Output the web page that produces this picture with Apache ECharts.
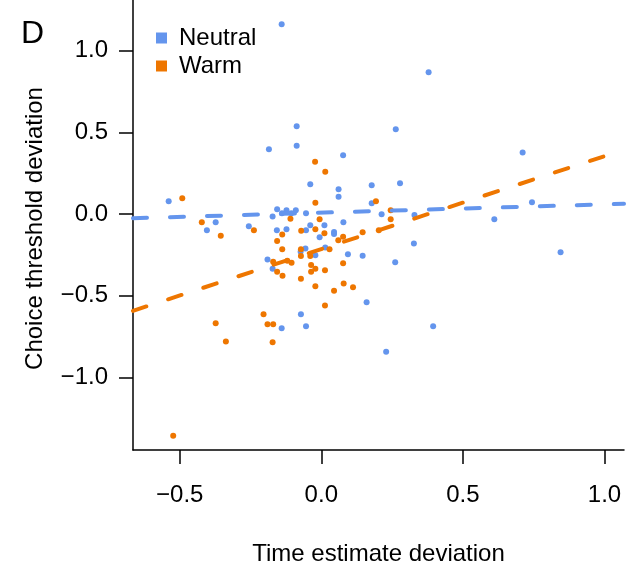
<!DOCTYPE html>
<html>
<head>
<meta charset="utf-8">
<script src="https://cdn.jsdelivr.net/npm/echarts@6/dist/echarts.min.js"></script>
<style>html,body{margin:0;padding:0;background:#fff;}#c{width:628px;height:571px;}</style>
</head>
<body>
<div id="c"></div>
<script>
// Data
const neutralX = [-0.140,-0.087,-0.185,-0.087,0.077,-0.039,0.061,0.061,0.178,0.178,-0.539,-0.373,-0.404,-0.256,-0.172,-0.156,-0.123,-0.106,-0.090,-0.139,-0.054,-0.157,-0.123,-0.190,-0.172,-0.054,-0.039,0.011,0.045,0.045,-0.006,0.078,0.014,-0.056,-0.073,-0.021,0.094,0.146,0.160,-0.072,-0.140,-0.054,0.379,0.263,0.711,0.278,0.213,0.329,0.327,0.261,0.611,0.744,0.845,0.395,0.229];
const neutralY = [1.162,0.537,0.396,0.418,0.359,0.182,0.151,0.106,0.176,0.066,0.078,-0.051,-0.100,-0.075,-0.016,0.029,0.023,0.004,0.023,0.004,0.004,-0.100,-0.094,-0.278,-0.335,-0.100,-0.069,-0.069,-0.110,-0.122,-0.143,-0.051,-0.206,-0.212,-0.231,-0.253,-0.247,-0.255,-0.541,-0.614,-0.700,-0.688,0.868,0.519,0.376,0.188,-0.002,-0.006,-0.180,-0.296,-0.032,0.072,-0.235,-0.688,-0.843];
const warmX = [-0.022,0.014,0.193,-0.021,-0.491,-0.422,-0.355,-0.238,-0.109,-0.138,-0.156,-0.138,-0.170,-0.156,-0.137,-0.120,-0.105,-0.072,-0.071,-0.006,-0.021,0.011,0.077,0.060,0.146,0.203,0.029,-0.072,-0.072,-0.039,-0.036,-0.036,-0.021,0.013,-0.021,0.045,0.079,0.112,0.077,0.013,-0.204,-0.373,-0.190,-0.170,-0.337,-0.172,-0.523,0.245,0.245];
const warmY = [0.320,0.259,0.078,0.069,0.096,-0.051,-0.133,-0.100,-0.029,-0.125,-0.165,-0.216,-0.292,-0.353,-0.378,-0.286,-0.298,-0.396,-0.102,-0.032,-0.094,-0.118,-0.139,-0.161,-0.112,-0.100,-0.216,-0.216,-0.257,-0.257,-0.312,-0.353,-0.335,-0.345,-0.443,-0.470,-0.425,-0.449,-0.302,-0.561,-0.614,-0.669,-0.675,-0.675,-0.780,-0.786,-1.357,0.023,-0.032];
// Fitted regression line end points
const neutralFitX = [-0.665, 1.069];
const neutralFitY = [-0.026, 0.0625];
const warmFitX = [-0.665, 1.069];
const warmFitY = [-0.593, 0.393];
const xTicks = [-0.5, 0, 0.5, 1.0];
const yTicks = [-1.0, -0.5, 0, 0.5, 1.0];
const seriesNames = ['Neutral', 'Warm'];

const BLUE = '#6495ED', ORANGE = '#EE7600';
const FONT = 'Liberation Sans, Arial, sans-serif';
const zip = (a, b) => a.map((v, i) => [v, b[i]]);
const fmt = v => (v < 0 ? '\u2212' : '') + Math.abs(v).toFixed(1);

const chart = echarts.init(document.getElementById('c'), null, {renderer: 'canvas'});
chart.setOption({
  animation: false,
  backgroundColor: '#fff',
  textStyle: {fontFamily: FONT},
  grid: {left: 133, right: 4, top: 0, bottom: 121, containLabel: false, outerBoundsMode: 'none'},
  legend: {
    data: seriesNames,
    orient: 'vertical',
    left: 151, top: 21,
    icon: 'rect', itemWidth: 11, itemHeight: 11, itemGap: 4,
    textStyle: {fontSize: 24, fontFamily: FONT, color: '#000', lineHeight: 24, padding: [0, 0, 0, 7]}
  },
  graphic: [{
    type: 'text', left: 21, top: 18,
    style: {text: 'D', font: '32px ' + FONT, fill: '#000'}
  }],
  xAxis: {
    type: 'value', min: -0.665, max: 1.069,
    name: 'Time estimate deviation', nameLocation: 'middle', nameGap: 92,
    nameTextStyle: {fontSize: 24, fontFamily: FONT, color: '#000'},
    splitLine: {show: false},
    axisLine: {show: true, onZero: false, lineStyle: {color: '#000', width: 1.5}},
    axisTick: {show: true, length: 14, customValues: xTicks, lineStyle: {color: '#000', width: 1.5}},
    axisLabel: {customValues: xTicks, formatter: fmt, fontSize: 24, fontFamily: FONT, color: '#000', margin: 33}
  },
  yAxis: {
    type: 'value', min: -1.445, max: 1.31,
    name: 'Choice threshold deviation', nameLocation: 'middle', nameGap: 86, nameRotate: 90,
    nameTextStyle: {fontSize: 24, fontFamily: FONT, color: '#000', padding: [0, 7, 0, 0]},
    splitLine: {show: false},
    axisLine: {show: true, onZero: false, lineStyle: {color: '#000', width: 1.5}},
    axisTick: {show: true, length: 14, customValues: yTicks, lineStyle: {color: '#000', width: 1.5}},
    axisLabel: {customValues: yTicks, formatter: fmt, fontSize: 24, fontFamily: FONT, color: '#000', margin: 25}
  },
  series: [
    {name: seriesNames[0], type: 'scatter', symbol: 'circle', symbolSize: 6, itemStyle: {color: BLUE, opacity: 1}, data: zip(neutralX, neutralY), z: 2},
    {name: seriesNames[1], type: 'scatter', symbol: 'circle', symbolSize: 6, itemStyle: {color: ORANGE, opacity: 1}, data: zip(warmX, warmY), z: 2},
    {name: 'NeutralFit', type: 'line', showSymbol: false, symbol: 'none', silent: true, z: 3,
     lineStyle: {color: BLUE, width: 4, type: [14, 23], cap: 'round'}, data: zip(neutralFitX, neutralFitY)},
    {name: 'WarmFit', type: 'line', showSymbol: false, symbol: 'none', silent: true, z: 3,
     lineStyle: {color: ORANGE, width: 4, type: [14, 23], cap: 'round'}, data: zip(warmFitX, warmFitY)}
  ]
});
</script>
</body>
</html>
